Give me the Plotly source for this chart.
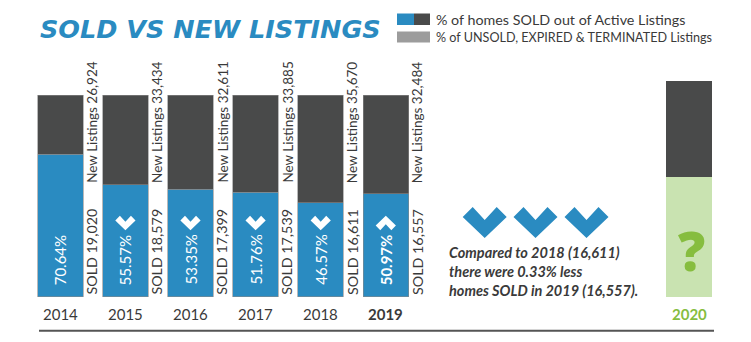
import plotly.graph_objects as go

# ---------------- data ----------------
years = ["2014", "2015", "2016", "2017", "2018", "2019"]
sold_pct = [70.64, 55.57, 53.35, 51.76, 46.57, 50.97]
sold = [19020, 18579, 17399, 17539, 16611, 16557]
new_listings = [26924, 33434, 32611, 33885, 35670, 32484]
trend = [None, "down", "down", "down", "down", "up"]
future_year = "2020"
future_sold_share = 59.2      # light-green placeholder portion
future_rest_share = 47.9      # dark portion above it
note_lines = ["Compared to 2018 (16,611)", "there were 0.33% less", "homes SOLD in 2019 (16,557)."]
title = "SOLD VS NEW LISTINGS"
legend_labels = ["% of homes SOLD out of Active Listings",
                 "% of UNSOLD, EXPIRED & TERMINATED Listings"]

# ---------------- style ----------------
BLUE = "#2a8bc1"
DARK = "#494a4a"
GRAY = "#9c9c9c"
GREEN_LIGHT = "#c9e3b1"
GREEN = "#86bd3f"
TEXT = "#3a3a3a"
W, H = 751, 342
FONT = "Lato"

# pixel geometry of the plot (axis range chosen so 1 x-unit = 65.1 px, 100% = 201.7 px)
PXX, X0 = 65.1, 60.3
PXY, Y0 = 2.017, 296.7
xpos = list(range(len(years)))
future_x = 9.66


def yd(py):
    return (Y0 - py) / PXY


def dx(p):
    return p / PXX


fig = go.Figure()
fig.add_trace(go.Bar(x=xpos, y=sold_pct, width=0.7, marker=dict(color=BLUE, line=dict(width=0.6, color="#8a8a8a")),
                     showlegend=False, hoverinfo="skip"))
fig.add_trace(go.Bar(x=xpos, y=[100 - p for p in sold_pct], width=0.7,
                     marker=dict(color=DARK, line=dict(width=0.6, color="#8a8a8a")), showlegend=False, hoverinfo="skip"))
fig.add_trace(go.Bar(x=[future_x], y=[future_sold_share], width=0.7, marker=dict(color=GREEN_LIGHT, line=dict(width=0)),
                     showlegend=False, hoverinfo="skip"))
fig.add_trace(go.Bar(x=[future_x], y=[future_rest_share], width=0.7, marker=dict(color=DARK, line=dict(width=0)),
                     showlegend=False, hoverinfo="skip"))

ann = []
shapes = []


def chevron(cx, cy_px, scale, up, color):
    # polygon in pixel offsets (width 44, height 31 at scale 1), converted to data units
    pts = [(-22, 10), (-12, 0), (0, 13), (12, 0), (22, 10), (0, 31)]
    out = []
    for (px, py) in pts:
        py = py * scale
        if up:
            py = 31 * scale - py
        out.append((cx + dx(px * scale), yd(cy_px - 15.5 * scale + py)))
    path = "M " + " L ".join(f"{x:.4f},{y:.4f}" for x, y in out) + " Z"
    shapes.append(dict(type="path", path=path, xref="x", yref="y", fillcolor=color, line=dict(width=0)))


for i, x in enumerate(xpos):
    bold = i == len(years) - 1
    pct = f"{sold_pct[i]:.2f}%"
    ann.append(dict(x=x, y=yd(287), text=f"<b>{pct}</b>" if bold else pct, textangle=-90, showarrow=False,
                    xanchor="center", yanchor="bottom", font=dict(family=FONT, size=15, color="white")))
    if trend[i]:
        chevron(x, 223, 0.46, trend[i] == "up", "white")
    ann.append(dict(x=x + dx(31.5), y=0, text=f"SOLD {sold[i]:,}", textangle=-90, showarrow=False,
                    xanchor="center", yanchor="bottom", font=dict(family=FONT, size=14.3, color=TEXT)))
    ann.append(dict(x=x + dx(31.5), y=yd(185), text=f"New Listings {new_listings[i]:,}", textangle=-90,
                    showarrow=False, xanchor="center", yanchor="bottom", font=dict(family=FONT, size=13.5, color=TEXT)))
    ann.append(dict(x=x, y=yd(314), text=f"<b>{years[i]}</b>" if bold else years[i], showarrow=False,
                    xanchor="center", yanchor="middle", font=dict(family=FONT, size=15, color=TEXT)))

ann.append(dict(x=future_x, y=yd(314), text=f"<b>{future_year}</b>", showarrow=False, xanchor="center",
                yanchor="middle", font=dict(family=FONT, size=15, color=GREEN)))
ann.append(dict(x=future_x + dx(2), y=yd(250), text="?", showarrow=False, xanchor="center", yanchor="middle",
                font=dict(family="Open Sans", size=54, color=GREEN, weight=800)))

# three big chevrons
for cpx in (484.7, 535.5, 586.5):
    chevron((cpx - X0) / PXX, 222.5, 1.0, False, BLUE)

ann.append(dict(x=(447 - X0) / PXX, y=yd(271), text="<br>".join(f"<b><i>{t}</i></b>" for t in note_lines),
                showarrow=False, xanchor="left", yanchor="middle", align="left",
                font=dict(family=FONT, size=14.5, color=TEXT)))

# title
ann.append(dict(xref="paper", yref="paper", x=38 / W, y=1 - 29 / H, text=f"<b><i>{title}</i></b>", showarrow=False,
                xanchor="left", yanchor="middle",
                font=dict(family="DejaVu Sans", size=25.5, color=BLUE)))

# legend
shapes.append(dict(type="rect", xref="paper", yref="paper", x0=397 / W, x1=414 / W, y0=1 - 25 / H, y1=1 - 13.5 / H,
                   fillcolor=BLUE, line=dict(width=0)))
shapes.append(dict(type="rect", xref="paper", yref="paper", x0=414 / W, x1=430 / W, y0=1 - 25 / H, y1=1 - 13.5 / H,
                   fillcolor=DARK, line=dict(width=0)))
shapes.append(dict(type="rect", xref="paper", yref="paper", x0=397 / W, x1=430 / W, y0=1 - 42.5 / H, y1=1 - 31.5 / H,
                   fillcolor=GRAY, line=dict(width=0)))
ann.append(dict(xref="paper", yref="paper", x=434 / W, y=1 - 19.5 / H, text=legend_labels[0], showarrow=False,
                xanchor="left", yanchor="middle", font=dict(family=FONT, size=14.3, color=TEXT)))
ann.append(dict(xref="paper", yref="paper", x=434 / W, y=1 - 37.5 / H, text=legend_labels[1], showarrow=False,
                xanchor="left", yanchor="middle", font=dict(family=FONT, size=12.6, color=TEXT)))

# bottom rule
shapes.append(dict(type="line", xref="paper", yref="paper", x0=39 / W, x1=714 / W, y0=1 - 330.7 / H,
                   y1=1 - 330.7 / H, line=dict(color="#555555", width=2)))

fig.update_layout(
    width=W, height=H, margin=dict(l=0, r=0, t=0, b=0),
    paper_bgcolor="white", plot_bgcolor="white", barmode="stack",
    xaxis=dict(range=[-X0 / PXX, (W - X0) / PXX], visible=False, fixedrange=True),
    yaxis=dict(range=[yd(H), yd(0)], visible=False, fixedrange=True),
    annotations=ann, shapes=shapes,
)
fig.write_html("out.html")
